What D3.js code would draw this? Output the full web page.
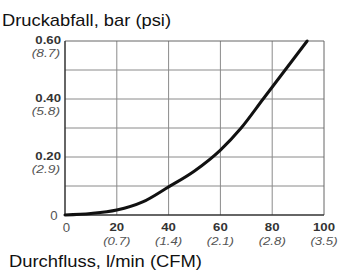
<!DOCTYPE html>
<html><head><meta charset="utf-8">
<script src="https://cdn.jsdelivr.net/npm/d3@7"></script>
<style>body{margin:0;background:#fff;} svg{display:block;font-family:"Liberation Sans",Arial,sans-serif;}</style>
</head><body>
<svg id="c" width="339" height="271"></svg>
<script>
const flow = [0, 10, 20, 30, 40, 50, 60, 68, 76.5, 85, 93.5];
const pressure = [0, 0.005, 0.017, 0.045, 0.097, 0.152, 0.224, 0.30, 0.40, 0.50, 0.60];
const xTicks = [0, 20, 40, 60, 80, 100];
const xTickSub = ["", "(0.7)", "(1.4)", "(2.1)", "(2.8)", "(3.5)"];
const yTicks = [0, 0.2, 0.4, 0.6];
const yTickMain = ["0", "0.20", "0.40", "0.60"];
const yTickSub = ["", "(2.9)", "(5.8)", "(8.7)"];
const yGrid = [0.1, 0.2, 0.3, 0.4, 0.5];
const yTitle = "Druckabfall, bar (psi)";
const xTitle = "Durchfluss, l/min (CFM)";

const svg = d3.select("#c");
const x = d3.scaleLinear().domain([0, 100]).range([65, 324]);
const y = d3.scaleLinear().domain([0, 0.6]).range([215, 41]);

function label(px, py, str, o) {
  return svg.append("text")
    .attr("transform", `translate(${px},${py}) scale(${o.sx || 1.2},1)`)
    .attr("text-anchor", o.anchor || "middle")
    .attr("font-size", o.size || 11)
    .attr("font-weight", o.bold ? "bold" : "normal")
    .attr("font-style", o.italic ? "italic" : "normal")
    .attr("fill", o.fill || "#333")
    .text(str);
}

// grid
svg.append("g").selectAll("line").data(xTicks.slice(1, -1)).join("line")
  .attr("x1", d => x(d)).attr("x2", d => x(d)).attr("y1", y(0)).attr("y2", y(0.6))
  .attr("stroke", "#8a8a8a").attr("stroke-width", 1);
svg.append("g").selectAll("line").data(yGrid).join("line")
  .attr("x1", x(0)).attr("x2", x(100)).attr("y1", d => y(d)).attr("y2", d => y(d))
  .attr("stroke", "#8a8a8a").attr("stroke-width", 1);
// frame
svg.append("line").attr("x1", x(0)).attr("x2", x(100)).attr("y1", y(0.6)).attr("y2", y(0.6)).attr("stroke", "#666");
svg.append("line").attr("x1", x(100)).attr("x2", x(100)).attr("y1", y(0)).attr("y2", y(0.6)).attr("stroke", "#666");
svg.append("line").attr("x1", x(0)).attr("x2", x(0)).attr("y1", y(0)).attr("y2", y(0.6)).attr("stroke", "#333").attr("stroke-width", 1.5);
svg.append("line").attr("x1", x(0)).attr("x2", x(100)).attr("y1", y(0)).attr("y2", y(0)).attr("stroke", "#333").attr("stroke-width", 1.5);

// curve
const pts = flow.map((f, i) => [f, pressure[i]]);
svg.append("path").datum(pts)
  .attr("d", d3.line().x(d => x(d[0])).y(d => y(d[1])).curve(d3.curveMonotoneX))
  .attr("fill", "none").attr("stroke", "#111").attr("stroke-width", 3).attr("stroke-linecap", "round");

// y labels
yTicks.forEach((t, i) => {
  if (t === 0) {
    label(57.5, y(t) + 4.5, yTickMain[i], {anchor: "end", size: 12, fill: "#555", sx: 1.1});
    return;
  }
  label(61, y(t) + 2.5, yTickMain[i], {anchor: "end", bold: true});
  label(60, y(t) + 16, yTickSub[i], {anchor: "end", italic: true, fill: "#555", size: 11.5});
});
// x labels
xTicks.forEach((t, i) => {
  if (t === 0) {
    label(x(t) + 1.5, 231.5, t, {size: 12, fill: "#555", sx: 1.1});
    return;
  }
  label(x(t), 231, t, {bold: true});
  label(x(t), 245, xTickSub[i], {italic: true, fill: "#555", size: 11.5, sx: 1.15});
});
// titles
svg.append("text").attr("x", 2).attr("y", 25.5).attr("font-size", 17).attr("fill", "#111")
  .attr("textLength", 169).attr("lengthAdjust", "spacingAndGlyphs").text(yTitle);
svg.append("text").attr("x", 9).attr("y", 266.5).attr("font-size", 16.5).attr("fill", "#111")
  .attr("textLength", 193).attr("lengthAdjust", "spacingAndGlyphs").text(xTitle);
</script>
</body></html>
